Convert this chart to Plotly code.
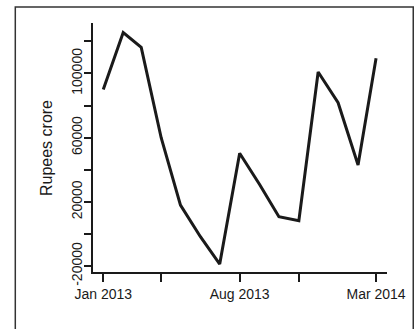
import plotly.graph_objects as go

# Monthly series, Jan 2013 - Mar 2014 (Rupees crore)
months = ["2013-01-01", "2013-02-01", "2013-03-01", "2013-04-01", "2013-05-01",
          "2013-06-01", "2013-07-01", "2013-08-01", "2013-09-01", "2013-10-01",
          "2013-11-01", "2013-12-01", "2014-01-01", "2014-02-01", "2014-03-01"]
values = [90000, 125500, 116300, 60000, 18000, -1700, -18700, 50300, 30800,
          10800, 8300, 100900, 81800, 43000, 109500]

x_tick_vals = ["2013-01-01", "2013-04-01", "2013-08-01", "2013-11-01", "2014-03-01"]
x_tick_text = ["Jan 2013", "", "Aug 2013", "", "Mar 2014"]
y_tick_vals = [-20000, 0, 20000, 40000, 60000, 80000, 100000, 120000]
y_tick_text = ["-20000", "", "20000", "", "60000", "", "100000", ""]

ink = "#1a1a1a"
tick_font = dict(family="Liberation Sans Narrow, Liberation Sans, Arial", size=14, color=ink)

fig = go.Figure(go.Scatter(
    x=months, y=values, mode="lines",
    line=dict(color=ink, width=3),
    hoverinfo="skip",
))

fig.update_layout(
    width=418, height=329,
    margin=dict(l=92, r=28, t=23, b=56),
    paper_bgcolor="white", plot_bgcolor="white",
    showlegend=False,
    xaxis=dict(
        range=["2012-12-14 12:00", "2014-03-18"],
        tickvals=x_tick_vals, ticktext=x_tick_text,
        ticks="outside", ticklen=8, tickwidth=2, tickcolor=ink,
        showline=False, showgrid=False, zeroline=False, tickfont=tick_font,
    ),
    yaxis=dict(
        range=[-24300, 131460],
        tickvals=y_tick_vals, ticktext=y_tick_text,
        ticks="outside", ticklen=7, tickwidth=2, tickcolor=ink,
        showline=False, showgrid=False, zeroline=False,
        tickangle=-90, tickfont=tick_font, ticklabelstandoff=-4,
        title=dict(text="Rupees crore", standoff=12,
                   font=dict(family="Liberation Sans, Arial", size=16, color=ink)),
    ),
    shapes=[
        # L-shaped frame along the left and bottom of the plotting region
        dict(type="path", xref="paper", yref="paper",
             path="M 0 1 L 0 0 L 1 0",
             line=dict(color=ink, width=2)),
        # outer border of the figure panel
        dict(type="rect", xref="paper", yref="paper",
             x0=-0.26, x1=1.089, y0=-0.3, y1=1.064,
             line=dict(color="#333333", width=1.5)),
    ],
)

fig.write_html("out.html")
